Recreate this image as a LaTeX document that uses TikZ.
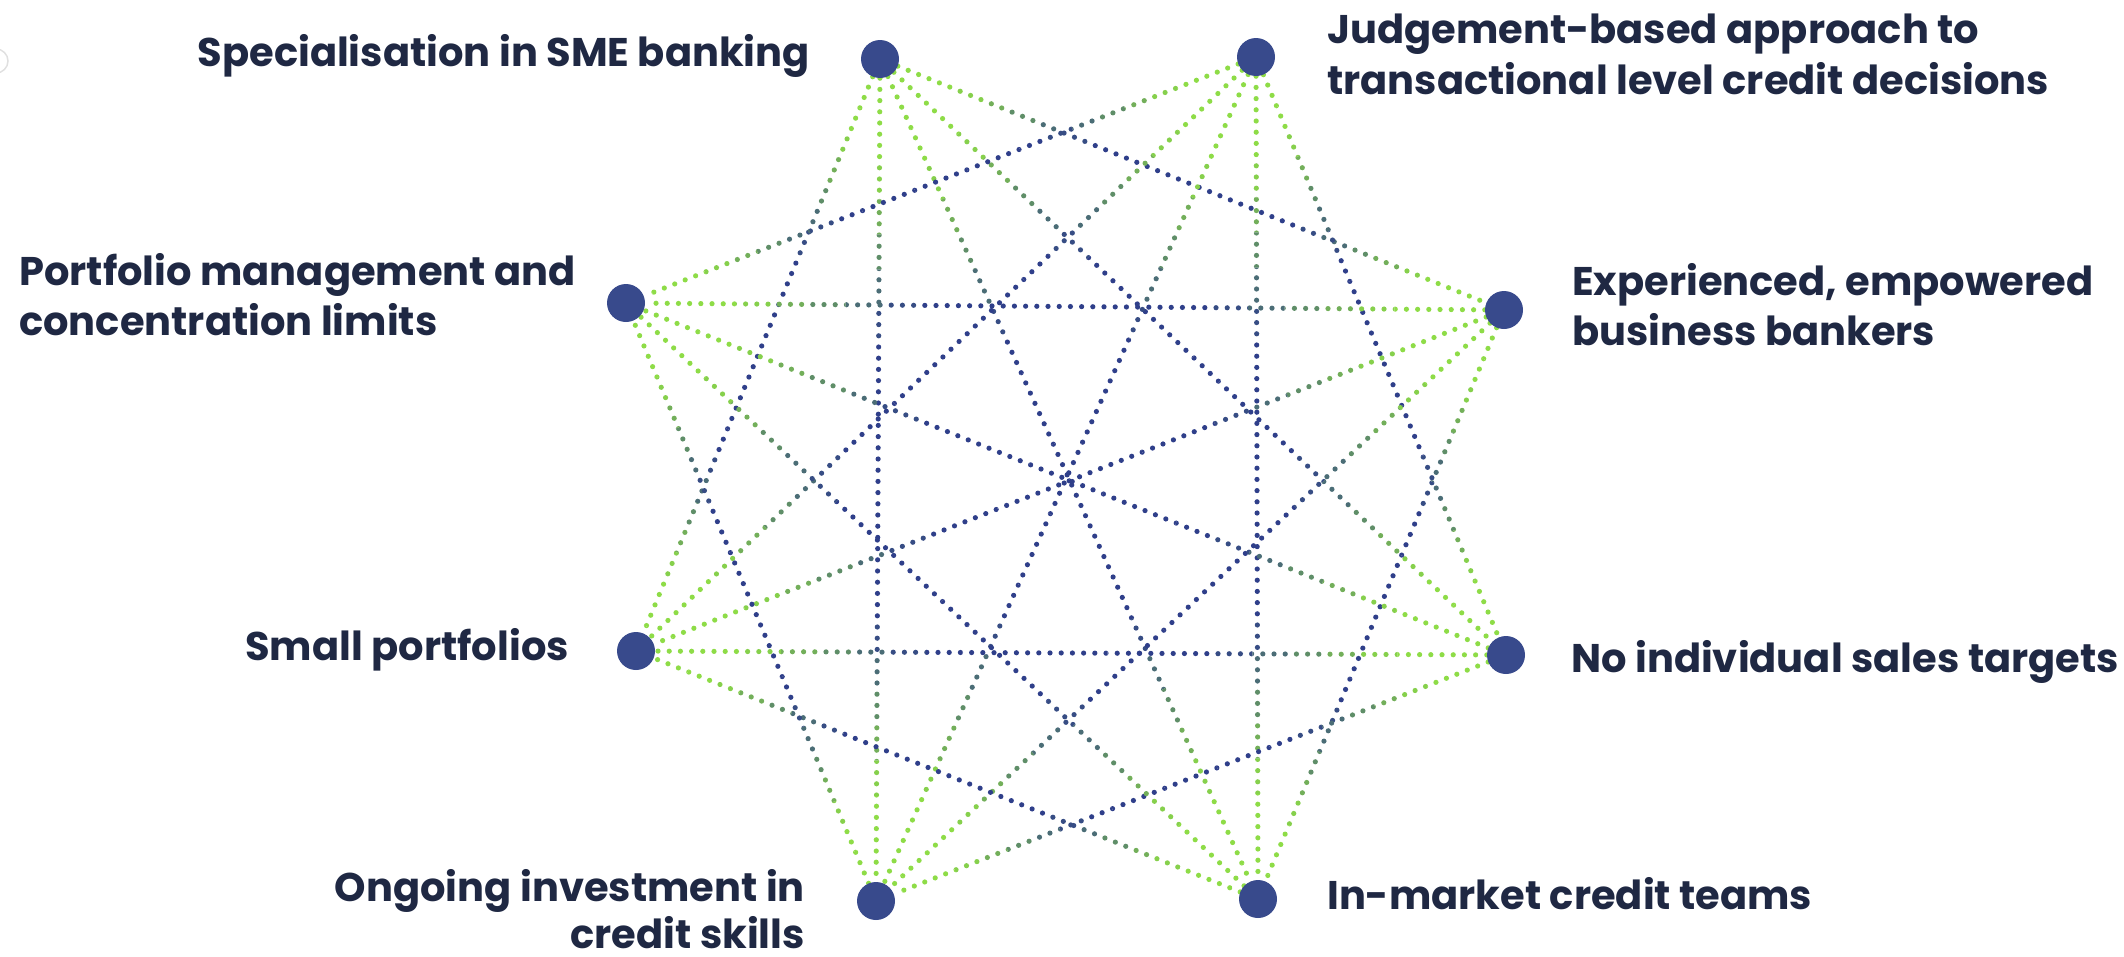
\documentclass[tikz,border=0pt]{standalone}
\usepackage{fontspec}
\setmainfont{Poppins}
\usetikzlibrary{calc}
\definecolor{dotgreen}{HTML}{8EDC47}
\definecolor{dotblue}{HTML}{2F3F8A}
\definecolor{hubblue}{HTML}{384A8C}
\definecolor{txt}{HTML}{1F2843}
\pgfdeclarelayer{bg}
\pgfsetlayers{bg,main}
\tikzset{
  hub/.style={circle, fill=hubblue, minimum size=38pt, inner sep=0pt},
  lbl/.style={font=\fontsize{40}{51}\selectfont\bfseries, text=txt, inner sep=0pt},
  link/.style={line width=5.2pt, dash pattern=on 0pt off 11.2pt, line cap=round},
}
\begin{document}
\begin{tikzpicture}[x=1pt,y=-1pt]
\useasboundingbox (0,0) rectangle (2124,956);
% faint arc at top-left edge
\draw[black!12, line width=1.5pt] (-4,61) circle (12);
% hubs
\node[hub] (A) at (880,59) {};
\node[hub] (B) at (1256,57) {};
\node[hub] (C) at (1504,310) {};
\node[hub] (D) at (1506,655) {};
\node[hub] (E) at (1258,899) {};
\node[hub] (F) at (876,901) {};
\node[hub] (G) at (636,651) {};
\node[hub] (H) at (626,303) {};
% connectors with green-blue-green gradient
\begin{pgfonlayer}{bg}
\foreach \sa/\sb in {A/C,A/D,A/E,A/F,A/G,B/D,B/E,B/F,B/G,B/H,C/E,C/F,C/G,C/H,D/F,D/G,D/H,E/G,E/H,F/H} {
  \coordinate (s1) at ($(\sa.center)!9pt!90:(\sb.center)$);
  \coordinate (s2) at ($(\sa.center)!9pt!-90:(\sb.center)$);
  \coordinate (e1) at ($(\sb.center)!9pt!-90:(\sa.center)$);
  \coordinate (e2) at ($(\sb.center)!9pt!90:(\sa.center)$);
  \foreach \k in {0,...,23} {
    \pgfmathsetmacro\mya{\k/24}
    \pgfmathsetmacro\myb{(\k+1)/24}
    \pgfmathsetmacro\myu{min((\k+0.5)/24, 1-(\k+0.5)/24)}
    \pgfmathsetmacro\myp{max(0,min(100,(\myu-0.13)/0.20*100))}
    \begin{scope}
      \clip ($(s1)!\mya!(e1)$) -- ($(s1)!\myb!(e1)$) -- ($(s2)!\myb!(e2)$) -- ($(s2)!\mya!(e2)$) -- cycle;
      \draw[link, draw=dotblue!\myp!dotgreen] (\sa) -- (\sb);
    \end{scope}
  }
}
\end{pgfonlayer}
% labels
\node[lbl, anchor=base east] (lA) at (810,66) {Specialisation in SME banking};
\node[lbl, anchor=base west] (lB1) at (1327,43) {Judgement-based approach to};
\node[lbl, anchor=base west] (lB2) at (1327,94) {transactional level credit decisions};
\node[lbl, anchor=base west] (lC1) at (1572,295) {Experienced, empowered};
\node[lbl, anchor=base west] (lC2) at (1572,345) {business bankers};
\node[lbl, anchor=base west] (lD) at (1571,672) {No individual sales targets};
\node[lbl, anchor=base west] (lE) at (1327,909) {In-market credit teams};
\node[lbl, anchor=base east] (lF1) at (805,901) {Ongoing investment in};
\node[lbl, anchor=base east] (lF2) at (805,948) {credit skills};
\node[lbl, anchor=base east] (lG) at (569,660) {Small portfolios};
\node[lbl, anchor=base west] (lH1) at (19,285) {Portfolio management and};
\node[lbl, anchor=base west] (lH2) at (19,335) {concentration limits};
\end{tikzpicture}
\end{document}
